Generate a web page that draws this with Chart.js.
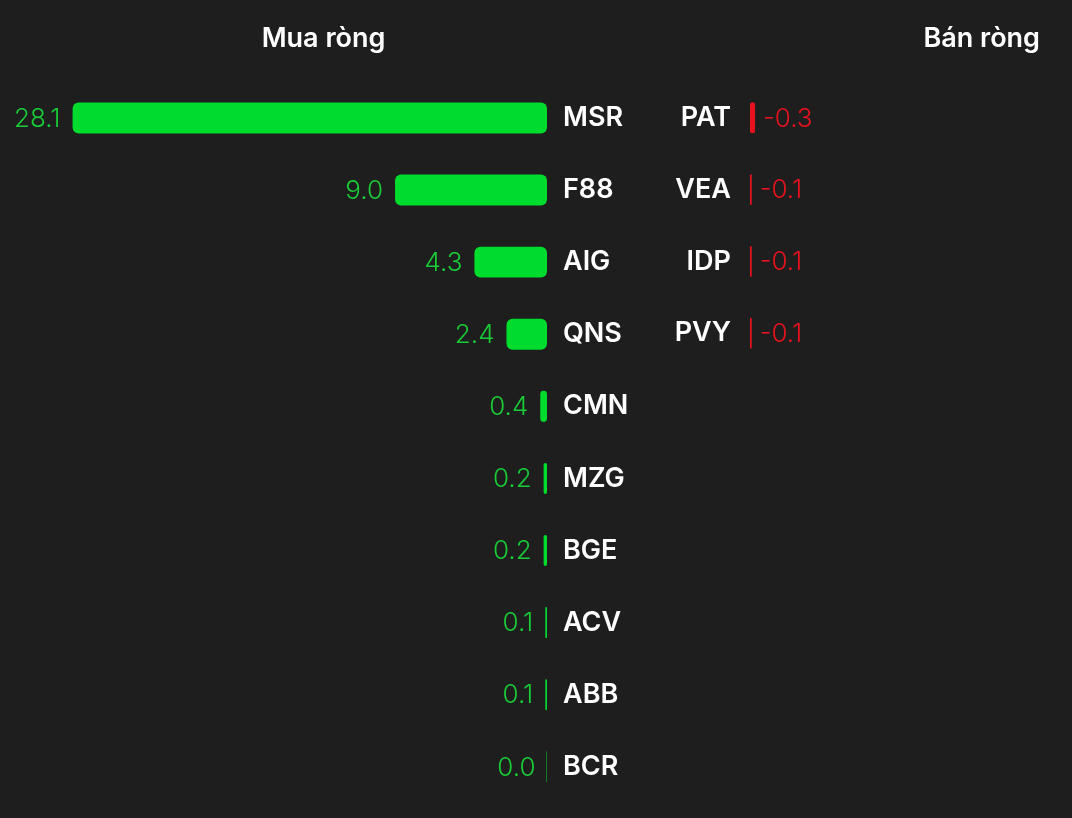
<!DOCTYPE html>
<html>
<head>
<meta charset="utf-8">
<script src="https://cdn.jsdelivr.net/npm/chart.js"></script>
<style>
  body { margin: 0; background: #1e1e1e; overflow: hidden; }
  .wrap { position: absolute; top: 0; height: 827px; }
  #left { left: 0; width: 647px; }
  #right { left: 647px; width: 425px; }
</style>
</head>
<body>
<div class="wrap" id="left"><canvas id="buyChart"></canvas></div>
<div class="wrap" id="right"><canvas id="sellChart"></canvas></div>
<script>
// net buy (Mua ròng)
const buyTickers = ['MSR', 'F88', 'AIG', 'QNS', 'CMN', 'MZG', 'BGE', 'ACV', 'ABB', 'BCR'];
const buyValues = [28.1, 9.0, 4.3, 2.4, 0.4, 0.2, 0.2, 0.1, 0.1, 0.0];

// net sell (Bán ròng) - only 4 rows, rest left empty so rows line up
const sellTickers = ['PAT', 'VEA', 'IDP', 'PVY', '', '', '', '', '', ''];
const sellValues = [-0.3, -0.1, -0.1, -0.1, null, null, null, null, null, null];

const GREEN = 'rgb(0, 220, 45)';
const GREEN_TEXT = 'rgb(25, 205, 55)';
const RED = 'rgb(232, 18, 30)';

Chart.defaults.font.family = 'Inter, "Noto Sans", sans-serif';
Chart.defaults.color = '#ffffff';

// draws the value next to the end of each bar
const valueLabels = {
  id: 'valueLabels',
  afterDatasetsDraw(chart, args, opts) {
    const ctx = chart.ctx;
    const meta = chart.getDatasetMeta(0);
    const data = chart.data.datasets[0].data;
    ctx.save();
    ctx.font = '300 26px Inter, "Noto Sans", sans-serif';
    ctx.fillStyle = opts.color;
    ctx.textBaseline = 'middle';
    ctx.textAlign = opts.side === 'left' ? 'right' : 'left';
    meta.data.forEach((bar, i) => {
      if (data[i] === null) return;
      const x = opts.side === 'left' ? bar.x - 12 : bar.x + 8;
      ctx.fillText(data[i].toFixed(1), x, bar.y + 1);
    });
    ctx.restore();
  }
};

new Chart(document.getElementById('buyChart'), {
  type: 'bar',
  data: {
    labels: buyTickers,
    datasets: [{
      data: buyValues,
      backgroundColor: GREEN,
      borderRadius: 6,
      borderSkipped: false,
      barPercentage: 0.43,
      categoryPercentage: 1,
      minBarLength: 1
    }]
  },
  options: {
    indexAxis: 'y',
    responsive: true,
    maintainAspectRatio: false,
    animation: false,
    layout: { padding: { bottom: 1 } },
    scales: {
      x: {
        display: false,
        reverse: true,
        min: 0,
        max: 32.4
      },
      y: {
        position: 'right',
        grid: { display: false },
        border: { display: false },
        ticks: { color: '#ffffff', padding: 8, font: { size: 27, weight: '600' } },
        afterFit(scale) { scale.width = 100; }
      }
    },
    plugins: {
      legend: { display: false },
      tooltip: { enabled: false },
      title: {
        display: true,
        text: 'Mua ròng',
        color: '#ffffff',
        font: { size: 27, weight: '600' },
        padding: { top: 23, bottom: 26.5 }
      },
      valueLabels: { side: 'left', color: GREEN_TEXT }
    }
  },
  plugins: [valueLabels]
});

new Chart(document.getElementById('sellChart'), {
  type: 'bar',
  data: {
    labels: sellTickers,
    datasets: [{
      data: sellValues,
      backgroundColor: RED,
      borderRadius: 6,
      borderSkipped: false,
      barPercentage: 0.43,
      categoryPercentage: 1,
      minBarLength: 1
    }]
  },
  options: {
    indexAxis: 'y',
    responsive: true,
    maintainAspectRatio: false,
    animation: false,
    layout: { padding: { bottom: 1, right: 32 } },
    scales: {
      x: {
        display: false,
        reverse: true,
        min: -17.2,
        max: 0
      },
      y: {
        position: 'left',
        grid: { display: false },
        border: { display: false },
        ticks: { color: '#ffffff', padding: 11, font: { size: 27, weight: '600' } },
        afterFit(scale) { scale.width = 103; }
      }
    },
    plugins: {
      legend: { display: false },
      tooltip: { enabled: false },
      title: {
        display: true,
        text: 'Bán ròng',
        align: 'end',
        color: '#ffffff',
        font: { size: 27, weight: '600' },
        padding: { top: 23, bottom: 26.5 }
      },
      valueLabels: { side: 'right', color: RED }
    }
  },
  plugins: [valueLabels]
});
</script>
</body>
</html>
